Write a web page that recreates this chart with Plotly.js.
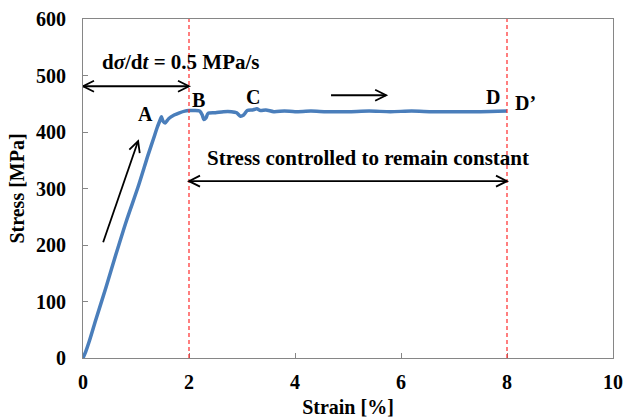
<!DOCTYPE html>
<html>
<head>
<meta charset="utf-8">
<script src="https://cdn.plot.ly/plotly-3.0.1.min.js"></script>
<style>html,body{margin:0;padding:0;background:#fff;}#chart{width:623px;height:420px;}</style>
</head>
<body>
<div id="chart"></div>
<script>
// Stress–strain curve
const strain = [0, 0.05, 0.12, 0.23, 0.43, 0.62, 0.82, 1.04, 1.23, 1.33, 1.4, 1.45, 1.48, 1.51, 1.55, 1.62, 1.72, 1.82, 1.92, 2.0, 2.1, 2.2, 2.25, 2.28, 2.32, 2.36, 2.5, 2.65, 2.8, 2.9, 2.97, 3.03, 3.1, 3.2, 3.28, 3.35, 3.45, 3.6, 3.8, 4.0, 4.3, 4.6, 5.0, 5.4, 5.8, 6.2, 6.6, 7.0, 7.5, 8.0];
const stress = [0, 11, 30, 64, 124, 183, 243, 303, 360, 388, 408, 420, 427, 419, 416, 424, 430, 434, 437, 438, 438, 437, 430, 422, 425, 433, 434, 436, 436, 434, 428, 430, 438, 439, 441, 438, 439, 436, 437, 436, 437, 436, 436, 437, 436, 437, 436, 436, 436, 437];

const xTicks = [0, 2, 4, 6, 8, 10];
const yTicks = [0, 100, 200, 300, 400, 500, 600];

// reference lines (strain positions)
const phaseBounds = [2, 8];

// labels: text, x, y
const labelText = ['A', 'B', 'C', 'D', 'D\u2019'];
const labelX = [1.17, 2.17, 3.2, 7.74, 8.34];
const labelY = [432, 457, 462, 462, 451];

const rateText = '<b>d<i>\u03c3</i>/d<i>t</i> = 0.5 MPa/s</b>';
const rateX = 1.84, rateY = 524;
const constText = '<b>Stress controlled to remain constant</b>';
const constX = 5.38, constY = 354;

// arrows: [x0, y0, x1, y1] (x1,y1 = head)
const rateArrow = [0, 481, 2, 481];
const constArrow = [2, 313, 8, 313];
const loadArrow = [0.38, 205, 1.04, 384];
const flowArrow = [4.68, 465, 5.72, 465];

const font = 'Liberation Serif, Times New Roman, serif';
const blk = '#000000';

function headPath(dx, dy, L, W) {
  const n = Math.hypot(dx, dy); const ux = dx / n, uy = dy / n;
  const px = -uy, py = ux;
  const a = [-L * ux + W * px, -L * uy + W * py];
  const b = [-L * ux - W * px, -L * uy - W * py];
  return `M${a[0].toFixed(2)},${a[1].toFixed(2)} L0,0 L${b[0].toFixed(2)},${b[1].toFixed(2)}`;
}
function vHead(x, y, dx, dy) {
  return {type: 'path', xref: 'x', yref: 'y', xsizemode: 'pixel', ysizemode: 'pixel',
    xanchor: x, yanchor: y, path: headPath(dx, dy, 11, 5.5),
    line: {color: blk, width: 1.8}};
}
function arrowShapes(a, both, pxPerX, pxPerY) {
  const dx = (a[2] - a[0]) * pxPerX, dy = (a[3] - a[1]) * pxPerY;
  const s = [{type: 'line', xref: 'x', yref: 'y', x0: a[0], y0: a[1], x1: a[2], y1: a[3],
    line: {color: blk, width: 1.8}}];
  s.push(vHead(a[2], a[3], dx, dy));
  if (both) s.push(vHead(a[0], a[1], -dx, -dy));
  return s;
}
const pxX = 53, pxY = 0.565;

let shapes = [];
phaseBounds.forEach(b => shapes.push({type: 'line', xref: 'x', yref: 'paper', x0: b, x1: b, y0: 0, y1: 1,
  line: {color: '#ff2a2a', width: 1.2, dash: '4px,3px'}}));
shapes = shapes.concat(arrowShapes(rateArrow, true, pxX, pxY));
shapes = shapes.concat(arrowShapes(constArrow, true, pxX, pxY));
shapes = shapes.concat(arrowShapes(loadArrow, false, pxX, pxY));
shapes = shapes.concat(arrowShapes(flowArrow, false, pxX, pxY));

const annotations = labelText.map((t, i) => ({x: labelX[i], y: labelY[i], xref: 'x', yref: 'y',
  text: '<b>' + t + '</b>', showarrow: false, font: {family: font, size: 20, color: blk}}));
annotations.push({x: rateX, y: rateY, xref: 'x', yref: 'y', text: rateText, showarrow: false,
  font: {family: font, size: 21, color: blk}});
annotations.push({x: constX, y: constY, xref: 'x', yref: 'y', text: constText, showarrow: false,
  font: {family: font, size: 21, color: blk}});

const trace = {x: strain, y: stress, type: 'scatter', mode: 'lines',
  line: {color: '#4a7ebb', width: 3.5, shape: 'spline', smoothing: 0.7}, hoverinfo: 'skip'};

const axisCommon = {showgrid: false, zeroline: false, showline: true, mirror: true,
  linecolor: '#868686', linewidth: 1, ticks: 'inside', ticklen: 5, tickcolor: '#868686',
  tickfont: {family: font, size: 20, color: blk, weight: 'bold'}};

const layout = {
  width: 623, height: 420,
  margin: {l: 83, r: 10, t: 19, b: 62},
  paper_bgcolor: '#ffffff', plot_bgcolor: '#ffffff',
  showlegend: false,
  xaxis: Object.assign({}, axisCommon, {range: [0, 10], tickvals: xTicks, ticktext: xTicks.map(String),
    ticklabelstandoff: 6,
    title: {text: '<b>Strain [%]</b>', font: {family: font, size: 20, color: blk}, standoff: 7}}),
  yaxis: Object.assign({}, axisCommon, {range: [0, 600], tickvals: yTicks, ticktext: yTicks.map(String),
    ticklabelstandoff: 12,
    title: {text: '<b>Stress [MPa]</b>', font: {family: font, size: 20, color: blk}, standoff: 6}}),
  shapes: shapes,
  annotations: annotations
};

Plotly.newPlot('chart', [trace], layout, {staticPlot: true, displayModeBar: false});
</script>
</body>
</html>
